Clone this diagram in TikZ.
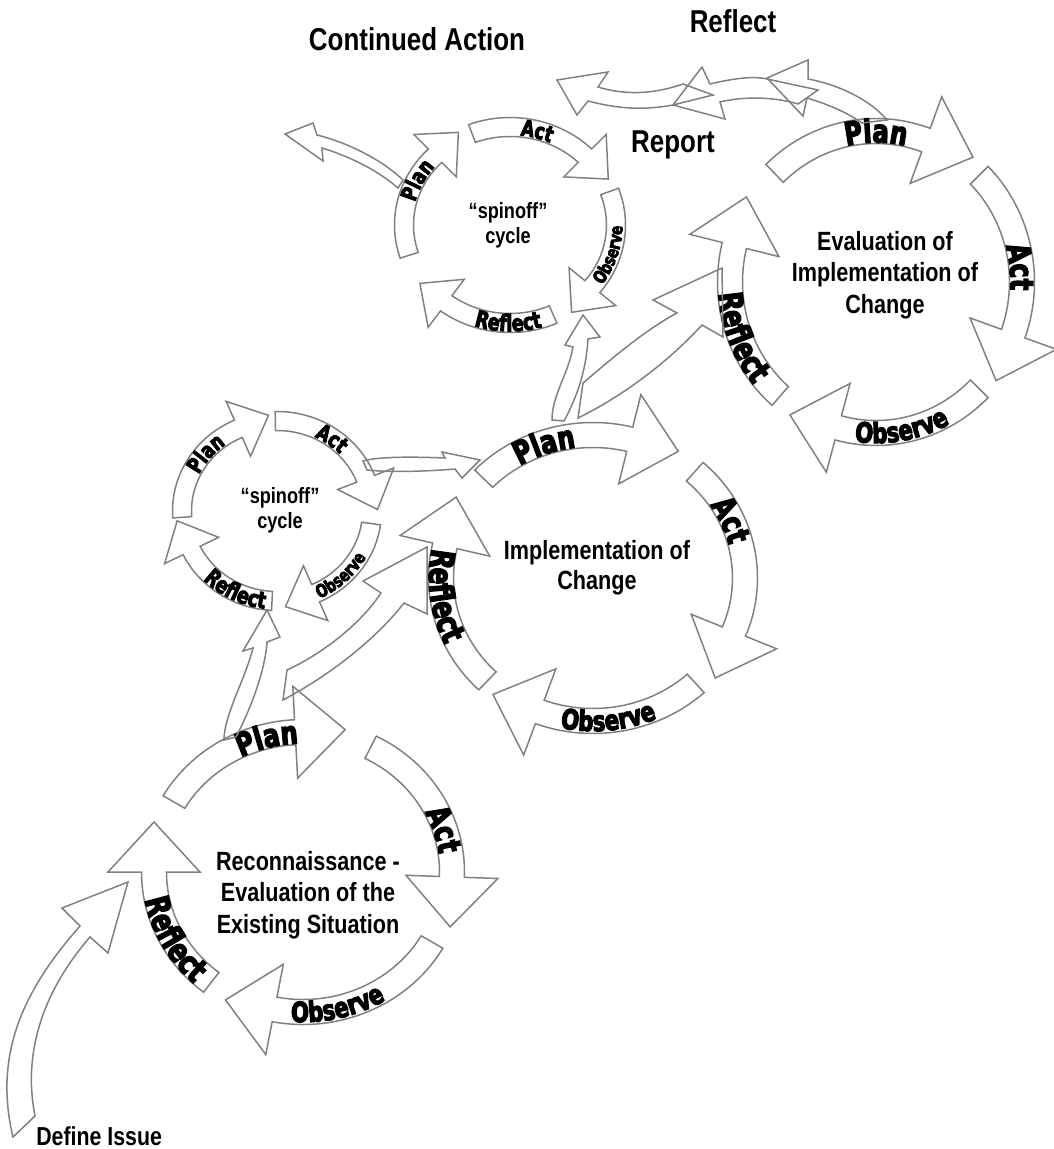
\documentclass[tikz,border=0pt]{standalone}
\usepackage{fontspec}
\usetikzlibrary{decorations.text}
\newfontfamily\nf{Liberation Sans}[FakeStretch=0.82]
\newfontfamily\lblfont{DejaVu Sans}[FakeStretch=0.76,FakeBold=4]
\tikzset{arr/.style={draw=black!50,line width=0.85pt,line join=miter}}
% curved block arrow on an ellipse: cx cy rx ry halfband start headbase headhalf headlen
\newcommand\cyc[9]{%
 \pgfmathsetmacro\rxo{#3+#5}\pgfmathsetmacro\ryo{#4+#5}%
 \pgfmathsetmacro\rxi{#3-#5}\pgfmathsetmacro\ryi{#4-#5}%
 \pgfmathsetmacro\rxh{#3+#8}\pgfmathsetmacro\ryh{#4+#8}%
 \pgfmathsetmacro\rxl{#3-#8}\pgfmathsetmacro\ryl{#4-#8}%
 \pgfmathsetmacro\tg{(#7<#6)?(#7-90):(#7+90)}%
 \pgfmathsetmacro\tx{#3*cos(#7)+#9*cos(\tg)}%
 \pgfmathsetmacro\ty{#4*sin(#7)+#9*sin(\tg)}%
 \draw[arr,shift={(#1,#2)}] (#6:{\rxo} and {\ryo}) arc[start angle=#6,end angle=#7,x radius=\rxo,y radius=\ryo] -- (#7:{\rxh} and {\ryh}) -- (\tx,\ty) -- (#7:{\rxl} and {\ryl}) -- (#7:{\rxi} and {\ryi}) arc[start angle=#7,end angle=#6,x radius=\rxi,y radius=\ryi] -- cycle;%
}
% label along ellipse: cx cy rx ry angle dir(1 cw,-1 ccw) size(px) text
\newcommand\lab[8]{%
 \pgfmathsetmacro\off{-(#6)*0.36*#7}%
 \pgfmathsetmacro\lrx{#3+\off}\pgfmathsetmacro\lry{#4+\off}%
 \pgfmathsetmacro\sa{#5+(#6)*60}\pgfmathsetmacro\ea{#5-(#6)*60}%
 \pgfmathsetmacro\fs{#7*0.567}%
 \path[shift={(#1,#2)},decorate,decoration={text along path,text align=center,text={|\lblfont\bfseries\fontsize{\fs pt}{\fs pt}\selectfont|#8}}] (\sa:{\lrx} and {\lry}) arc[start angle=\sa,end angle=\ea,x radius=\lrx,y radius=\lry];%
}
\begin{document}
\begin{tikzpicture}[x=0.02cm,y=0.02cm]
\path[use as bounding box] (0,0) rectangle (1054,-1149);

% ---- cycle 1: Reconnaissance
\cyc{303}{-872}{149}{140}{12.5}{150}{93}{46}{50}
\cyc{303}{-872}{149}{140}{12.5}{63}{-2}{46}{50}
\cyc{303}{-872}{149}{140}{12.5}{-30}{-101}{46}{50}
\cyc{303}{-872}{149}{140}{12.5}{232}{180}{46}{50}
\lab{303}{-872}{149}{140}{105}{1}{32}{Plan}
\lab{303}{-872}{149}{140}{17}{1}{32}{Act}
\lab{303}{-872}{149}{140}{-76}{-1}{28}{Observe}
\lab{303}{-872}{149}{140}{208}{-1}{33}{Reflect}
\node[font=\nf\bfseries\fontsize{15pt}{18pt}\selectfont,align=center] (t1) at (308,-895) {Reconnaissance -\\Evaluation of the\\Existing Situation};

% ---- cycle 2: Implementation
\cyc{593}{-578}{152}{143}{12.5}{136}{76}{46}{50}
\cyc{593}{-578}{152}{143}{12.5}{48}{-22}{46}{50}
\cyc{593}{-578}{152}{143}{12.5}{-47.5}{-110.5}{46}{50}
\cyc{593}{-578}{152}{143}{12.5}{226}{167}{46}{50}
\lab{593}{-578}{152}{143}{110}{1}{32}{Plan}
\lab{593}{-578}{152}{143}{23}{1}{32}{Act}
\lab{593}{-578}{152}{143}{-84}{-1}{28}{Observe}
\lab{593}{-578}{152}{143}{187}{-1}{33}{Reflect}
\node[font=\nf\bfseries\fontsize{15pt}{17pt}\selectfont,align=center] (t2) at (597,-568) {Implementation of\\Change};

% ---- cycle 3: Evaluation
\cyc{876}{-282}{146}{151}{12.5}{134}{70}{46}{50}
\cyc{876}{-282}{146}{151}{12.5}{45}{-20}{46}{50}
\cyc{876}{-282}{146}{151}{12.5}{-45}{-105}{46}{50}
\cyc{876}{-282}{146}{151}{12.5}{229}{166}{46}{50}
\lab{876}{-282}{146}{151}{90}{1}{32}{Plan}
\lab{876}{-282}{146}{151}{6}{1}{32}{Act}
\lab{876}{-282}{146}{151}{-80}{-1}{28}{Observe}
\lab{876}{-282}{146}{151}{202}{-1}{33}{Reflect}
\node[font=\nf\bfseries\fontsize{15pt}{18pt}\selectfont,align=center] (t3) at (885,-275) {Evaluation of\\Implementation of\\Change};

% ---- spinoff A (upper)
\cyc{510}{-225}{106}{98}{9.5}{198}{135}{30}{33}
\cyc{510}{-225}{106}{98}{9.5}{111}{45}{30}{33}
\cyc{510}{-225}{106}{98}{9.5}{20}{-39}{30}{33}
\cyc{510}{-225}{106}{98}{9.5}{-66}{-127}{30}{33}
\lab{510}{-225}{106}{98}{154}{1}{22}{Plan}
\lab{510}{-225}{106}{98}{74}{1}{22}{Act}
\lab{510}{-225}{106}{98}{-17}{-1}{18}{Observe}
\lab{510}{-225}{106}{98}{-91}{-1}{23}{Reflect}
\node[font=\nf\bfseries\fontsize{12.6pt}{14pt}\selectfont,align=center] (sa) at (508,-225) {“spinoff”\\cycle};

% ---- spinoff B (lower)
\cyc{277}{-511}{95}{90}{9.5}{184}{114}{30}{33}
\cyc{277}{-511}{95}{90}{9.5}{91}{21}{30}{33}
\cyc{277}{-511}{95}{90}{9.5}{-8}{-66}{30}{33}
\cyc{277}{-511}{95}{90}{9.5}{267}{206}{30}{33}
\lab{277}{-511}{95}{90}{141}{1}{22}{Plan}
\lab{277}{-511}{95}{90}{53}{1}{22}{Act}
\lab{277}{-511}{95}{90}{-46}{-1}{18}{Observe}
\lab{277}{-511}{95}{90}{243}{-1}{23}{Reflect}
\node[font=\nf\bfseries\fontsize{12.6pt}{14pt}\selectfont,align=center] (sb) at (280,-510) {“spinoff”\\cycle};

% ---- connectors
% Define issue
\draw[arr] (13,-1137) .. controls (-8,-1050) and (28,-985) .. (80,-926) -- (62,-908) -- (128,-882) -- (108,-953) -- (90,-937) .. controls (45,-989) and (22,-1050) .. (35,-1116) -- cycle;
% cycle1 -> spinoff B
\draw[arr] (224,-740) .. controls (224,-715) and (245,-680) .. (253,-648) -- (243,-651) -- (267,-610) -- (280,-637) -- (267,-642) .. controls (265,-672) and (250,-710) .. (236,-737) -- cycle;
% cycle1 -> cycle2
\draw[arr] (283,-700) -- (287,-670) .. controls (320,-655) and (360,-625) .. (381,-593) -- (363,-581) -- (427,-547) -- (427,-614) -- (404,-603) .. controls (375,-640) and (330,-675) .. (283,-700) -- cycle;
% cycle2 -> spinoff A
\draw[arr] (552,-420) .. controls (552,-395) and (568,-375) .. (573,-347) -- (565,-345) -- (583,-315) -- (600,-337) -- (588,-339) .. controls (586,-370) and (578,-395) .. (564,-421) -- cycle;
% cycle2 -> cycle3
\draw[arr] (578,-418) -- (583,-383) .. controls (610,-360) and (645,-330) .. (677,-313) -- (653,-300) -- (722,-268) -- (723,-337) -- (702,-325) .. controls (670,-360) and (625,-395) .. (578,-418) -- cycle;
% spinoff B -> cycle2
\draw[arr] (363,-461) .. controls (380,-456) and (420,-457) .. (445,-458) -- (442,-452) -- (480,-460) -- (462,-478) -- (455,-469) .. controls (420,-472) and (385,-472) .. (367,-470) -- cycle;
% spinoff A -> continued action
\draw[arr] (285,-134) -- (313,-123) -- (317,-135) .. controls (345,-142) and (380,-158) .. (403,-180) -- (398,-188) .. controls (375,-168) and (345,-155) .. (322,-148) -- (323,-161) -- cycle;
% top arrows
\draw[arr] (557,-80) -- (608,-72) -- (598,-87) .. controls (630,-97) and (660,-92) .. (683,-84) -- (713,-95) -- (673,-105) .. controls (640,-111) and (615,-108) .. (588,-101) -- (577,-115) -- cycle;
\draw[arr] (673,-105) -- (702,-67) -- (710,-84) .. controls (735,-78) and (755,-76) .. (767,-79) -- (818,-90) -- (798,-104) .. controls (775,-97) and (745,-96) .. (720,-102) -- (725,-119) -- cycle;
\draw[arr] (887,-120) .. controls (870,-100) and (840,-85) .. (808,-79) -- (808,-60) -- (767,-78) -- (803,-116) -- (807,-98) .. controls (830,-105) and (848,-113) .. (862,-123) -- cycle;

% ---- free labels
\node[font=\nf\bfseries\fontsize{18pt}{22pt}\selectfont] (ca) at (417,-39) {Continued Action};
\node[font=\nf\bfseries\fontsize{18pt}{22pt}\selectfont] (rf) at (733,-21) {Reflect};
\node[font=\nf\bfseries\fontsize{18pt}{22pt}\selectfont] (rp) at (673,-145) {Report};
\node[font=\nf\bfseries\fontsize{14.8pt}{18pt}\selectfont,anchor=base west,inner sep=0pt] (di) at (36,-1145) {Define Issue};
\end{tikzpicture}
\end{document}
